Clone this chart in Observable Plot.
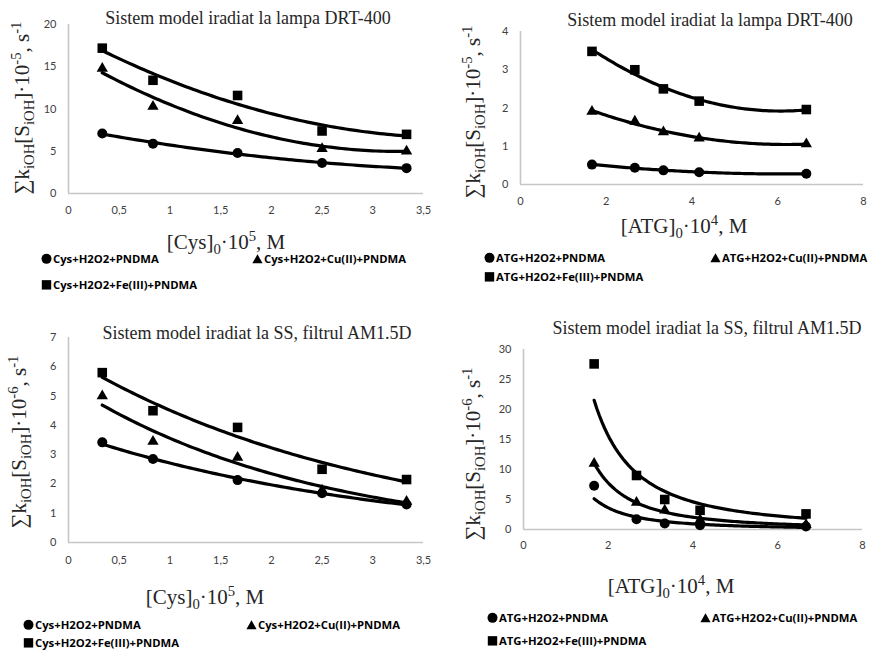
<!DOCTYPE html>
<html>
<head>
<meta charset="utf-8">
<script src="https://cdn.jsdelivr.net/npm/d3@7"></script>
<script src="https://cdn.jsdelivr.net/npm/@observablehq/plot@0.6"></script>
<style>
  html, body { margin: 0; padding: 0; background: #fff; }
  #root { position: relative; width: 870px; height: 651px; overflow: hidden; background: #fff; }
  .abs { position: absolute; white-space: nowrap; }
  .title { font-family: "Liberation Serif", "Times New Roman", serif; font-size: 18px; color: #262626; transform: translate(-50%, -50%); line-height: 1; }
  .xlab { font-family: "Liberation Serif", "Times New Roman", serif; font-size: 21px; color: #262626; transform: translate(-50%, -50%); line-height: 1; }
  .ylab { font-family: "Liberation Serif", "Times New Roman", serif; font-size: 21px; color: #262626; transform: translate(-50%, -50%) rotate(-90deg); line-height: 1; }
  .xlab sub, .ylab sub, .xlab sup, .ylab sup { font-size: 0.7em; line-height: 0; }
  .leg { font-family: "Open Sans", sans-serif; font-weight: bold; font-size: 11.3px; color: #000; transform: translateY(-50%); display: flex; align-items: center; line-height: 1; }
  .leg svg { margin-right: 1px; }
</style>
</head>
<body>
<div id="root"></div>
<script>
// ---------- data ----------
const cysX = [0.333, 0.833, 1.667, 2.5, 3.333];
const atgX = [1.667, 2.667, 3.333, 4.167, 6.667];

const drtCysPNDMA = [7.1, 5.9, 4.8, 3.6, 3.0];
const drtCysCu    = [14.8, 10.3, 8.6, 5.3, 5.0];
const drtCysFe    = [17.2, 13.4, 11.6, 7.4, 7.0];

const drtAtgPNDMA = [0.52, 0.44, 0.37, 0.32, 0.28];
const drtAtgCu    = [1.91, 1.65, 1.37, 1.21, 1.06];
const drtAtgFe    = [3.48, 3.0, 2.5, 2.18, 1.96];

const ssCysPNDMA  = [3.42, 2.85, 2.13, 1.68, 1.3];
const ssCysCu     = [5.0, 3.45, 2.9, 1.78, 1.4];
const ssCysFe     = [5.8, 4.5, 3.93, 2.5, 2.15];

const ssAtgPNDMA  = [7.3, 1.7, 1.0, 0.7, 0.5];
const ssAtgCu     = [11.0, 4.5, 3.2, 1.6, 0.8];
const ssAtgFe     = [27.6, 9.0, 5.0, 3.2, 2.6];

const cysLegend = ["Cys+H2O2+PNDMA", "Cys+H2O2+Cu(II)+PNDMA", "Cys+H2O2+Fe(III)+PNDMA"];
const atgLegend = ["ATG+H2O2+PNDMA", "ATG+H2O2+Cu(II)+PNDMA", "ATG+H2O2+Fe(III)+PNDMA"];
const symbols = ["circle", "triangle", "square"];

const titleDRT = "Sistem model iradiat la lampa DRT-400";
const titleSS = "Sistem model iradiat la SS, filtrul AM1.5D";

const cysTicks = [0, 0.5, 1, 1.5, 2, 2.5, 3, 3.5];
const atgTicks = [0, 2, 4, 6, 8];

// ---------- trendline fits (regressions of the data) ----------
function fitPoly2(xs, ys) {
  let S = [0,0,0,0,0], T = [0,0,0];
  xs.forEach((x, i) => { for (let k = 0; k < 5; k++) S[k] += x ** k; for (let k = 0; k < 3; k++) T[k] += ys[i] * x ** k; });
  const A = [[S[0],S[1],S[2],T[0]],[S[1],S[2],S[3],T[1]],[S[2],S[3],S[4],T[2]]];
  for (let c = 0; c < 3; c++) {
    for (let r = c + 1; r < 3; r++) { const f = A[r][c] / A[c][c]; for (let k = c; k < 4; k++) A[r][k] -= f * A[c][k]; }
  }
  const b = [0,0,0];
  for (let r = 2; r >= 0; r--) { let s = A[r][3]; for (let k = r + 1; k < 3; k++) s -= A[r][k] * b[k]; b[r] = s / A[r][r]; }
  return x => b[0] + b[1] * x + b[2] * x * x;
}
function linreg(xs, ys) {
  const mx = d3.mean(xs), my = d3.mean(ys);
  let sxy = 0, sxx = 0; xs.forEach((x, i) => { sxy += (x - mx) * (ys[i] - my); sxx += (x - mx) ** 2; });
  const m = sxy / sxx; return [m, my - m * mx];
}
function fitExp(xs, ys) { const [m, c] = linreg(xs, ys.map(Math.log)); return x => Math.exp(c + m * x); }
function fitPow(xs, ys) { const [m, c] = linreg(xs.map(Math.log), ys.map(Math.log)); return x => Math.exp(c) * x ** m; }

function trend(xs, ys, kind) {
  const f = kind === "poly" ? fitPoly2(xs, ys) : kind === "exp" ? fitExp(xs, ys) : fitPow(xs, ys);
  const x0 = d3.min(xs), x1 = d3.max(xs);
  return d3.range(0, 81).map(i => { const x = x0 + (x1 - x0) * i / 80; return { x, y: f(x) }; });
}

const root = document.getElementById("root");
const comma = d => String(d).replace(".", ",");

function addDiv(cls, html, x, y) {
  const d = document.createElement("div");
  d.className = "abs " + cls; d.innerHTML = html;
  d.style.left = x + "px"; d.style.top = y + "px";
  root.appendChild(d); return d;
}

function legendIcon(sym) {
  let shape;
  if (sym === "circle") shape = '<circle cx="5.5" cy="5.5" r="5" fill="#000"/>';
  else if (sym === "triangle") shape = '<path d="M5.5 0.8 L10.6 10 L0.4 10 Z" fill="#000"/>';
  else shape = '<rect x="0.8" y="0.8" width="9.4" height="9.4" fill="#000"/>';
  return `<svg width="11" height="11" viewBox="0 0 11 11">${shape}</svg>`;
}

function panel(cfg) {
  const rows = [];
  const lines = [];
  cfg.series.forEach((ys, s) => {
    ys.forEach((y, i) => rows.push({ x: cfg.xs[i], y, sym: symbols[s] }));
    trend(cfg.xs, ys, cfg.fit).forEach(p => lines.push({ ...p, s }));
  });
  const plot = Plot.plot({
    width: cfg.w, height: cfg.h,
    marginLeft: cfg.ml, marginRight: cfg.w - cfg.xr, marginTop: cfg.yt, marginBottom: cfg.h - cfg.yb,
    x: { domain: cfg.xdom, ticks: cfg.xticks, tickFormat: comma, tickSize: 0, tickPadding: cfg.xpad, label: null },
    y: { domain: cfg.ydom, ticks: cfg.yticks, tickFormat: comma, tickSize: 0, tickPadding: 12, label: null },
    style: { fontFamily: "Lato, 'Open Sans', sans-serif", fontSize: "11px", color: "#404040", background: "transparent", overflow: "visible" },
    marks: [
      Plot.ruleY([cfg.ydom[0]], { stroke: "#c6c6c6", strokeWidth: 1.6 }),
      Plot.ruleX([cfg.xdom[0]], { stroke: "#c6c6c6", strokeWidth: 1.6 }),
      Plot.line(lines, { x: "x", y: "y", z: "s", stroke: "#000", strokeWidth: 3.2, curve: "linear" }),
      Plot.dot(rows.filter(d => d.sym === "circle"), { x: "x", y: "y", symbol: "circle", r: 5, fill: "#000", stroke: "none" }),
      Plot.dot(rows.filter(d => d.sym === "triangle"), { x: "x", y: "y", symbol: "triangle", r: 4.2, fill: "#000", stroke: "none" }),
      Plot.dot(rows.filter(d => d.sym === "square"), { x: "x", y: "y", symbol: "square", r: 5.4, fill: "#000", stroke: "none" })
    ]
  });
  plot.style.position = "absolute";
  plot.style.left = cfg.left + "px";
  plot.style.top = cfg.top + "px";
  root.appendChild(plot);

  addDiv("title", cfg.title, cfg.tx, cfg.ty);
  addDiv("ylab", cfg.ylab, cfg.ylx, cfg.yly);
  addDiv("xlab", cfg.xlab, cfg.xlx, cfg.xly);
  cfg.legend.forEach((t, i) => {
    const [lx, ly] = cfg.legPos[i];
    addDiv("leg", legendIcon(symbols[i]) + "<span>" + t + "</span>", lx, ly);
  });
}

const ylab5 = "&sum;k<sub>iOH</sub>[S<sub>iOH</sub>]&middot;10<sup>-5</sup>, s<sup>-1</sup>";
const ylab6 = "&sum;k<sub>iOH</sub>[S<sub>iOH</sub>]&middot;10<sup>-6</sup>, s<sup>-1</sup>";
const xlabCys = "[Cys]<sub>0</sub>&middot;10<sup>5</sup>, M";
const xlabAtg = "[ATG]<sub>0</sub>&middot;10<sup>4</sup>, M";

// top-left
panel({
  left: 0, top: 0, w: 435, h: 225, ml: 68, xr: 423, yt: 24, yb: 193,
  xs: cysX, series: [drtCysPNDMA, drtCysCu, drtCysFe], fit: "poly",
  xdom: [0, 3.5], xticks: cysTicks, ydom: [0, 20], yticks: [0, 5, 10, 15, 20], xpad: 13,
  title: titleDRT, tx: 248, ty: 18,
  ylab: ylab5, ylx: 22, yly: 108,
  xlab: xlabCys, xlx: 226, xly: 242,
  legend: cysLegend, legPos: [[41, 259], [252, 259], [41, 285]]
});
// top-right
panel({
  left: 435, top: 0, w: 435, h: 225, ml: 85, xr: 428, yt: 31, yb: 184,
  xs: atgX, series: [drtAtgPNDMA, drtAtgCu, drtAtgFe], fit: "poly",
  xdom: [0, 8], xticks: atgTicks, ydom: [0, 4], yticks: [0, 1, 2, 3, 4], xpad: 13,
  title: titleDRT, tx: 710, ty: 20,
  ylab: ylab5, ylx: 473, yly: 112,
  xlab: xlabAtg, xlx: 684, xly: 226,
  legend: atgLegend, legPos: [[484, 258], [710, 258], [484, 277]]
});
// bottom-left
panel({
  left: 0, top: 300, w: 435, h: 270, ml: 68, xr: 423, yt: 37, yb: 242,
  xs: cysX, series: [ssCysPNDMA, ssCysCu, ssCysFe], fit: "exp",
  xdom: [0, 3.5], xticks: cysTicks, ydom: [0, 7], yticks: [0, 1, 2, 3, 4, 5, 6, 7], xpad: 14,
  title: titleSS, tx: 257, ty: 333,
  ylab: ylab6, ylx: 19, yly: 442,
  xlab: xlabCys, xlx: 205, xly: 597,
  legend: cysLegend, legPos: [[23, 625], [246, 625], [23, 643]]
});
// bottom-right
panel({
  left: 435, top: 300, w: 435, h: 270, ml: 88, xr: 427, yt: 49, yb: 229,
  xs: atgX, series: [ssAtgPNDMA, ssAtgCu, ssAtgFe], fit: "pow",
  xdom: [0, 8], xticks: atgTicks, ydom: [0, 30], yticks: [0, 5, 10, 15, 20, 25, 30], xpad: 12,
  title: titleSS, tx: 707, ty: 328,
  ylab: ylab6, ylx: 473, yly: 454,
  xlab: xlabAtg, xlx: 671, xly: 586,
  legend: atgLegend, legPos: [[487, 618], [700, 618], [487, 641]]
});
</script>
</body>
</html>
